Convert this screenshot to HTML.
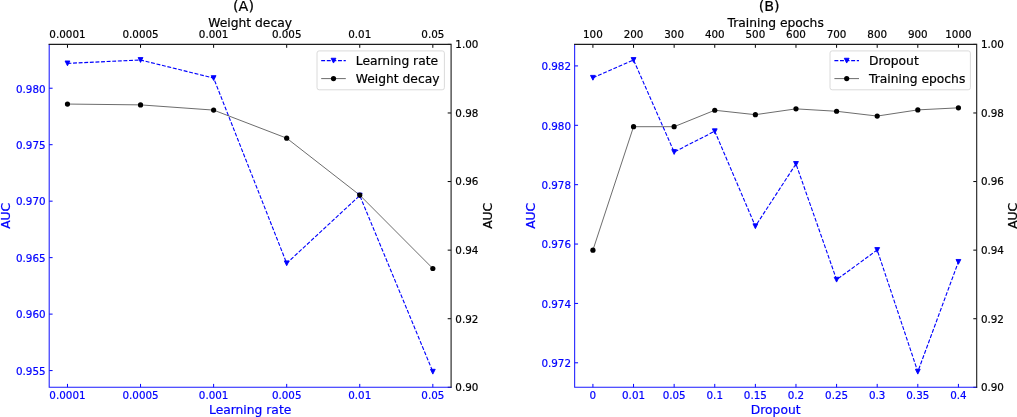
<!DOCTYPE html>
<html><head><meta charset="utf-8"><title>AUC hyperparameter sensitivity</title>
<style>html,body{margin:0;padding:0;background:#fff}svg{display:block}text{font-family:"DejaVu Sans","Liberation Sans",sans-serif;fill:#000;stroke:#000;stroke-width:0.2px}text.b{fill:#00f;stroke:#00f}</style>
</head><body>
<svg width="1017" height="417" viewBox="0 0 1017 417">
<rect width="1017" height="417" fill="#fff"/>
<g>
<polyline points="67.47,63.37 140.54,59.99 213.61,78.06 286.69,263.29 359.76,195.52 432.83,371.71" fill="none" stroke="#0000ff" stroke-width="1.12" stroke-dasharray="3.9 1.7" stroke-linejoin="round"/>
<path d="M65.07 60.97H69.87L67.47 65.77Z" fill="#0000ff" stroke="#0000ff" stroke-width="0.9" stroke-linejoin="miter"/>
<path d="M138.14 57.59H142.94L140.54 62.39Z" fill="#0000ff" stroke="#0000ff" stroke-width="0.9" stroke-linejoin="miter"/>
<path d="M211.21 75.66H216.01L213.61 80.46Z" fill="#0000ff" stroke="#0000ff" stroke-width="0.9" stroke-linejoin="miter"/>
<path d="M284.29 260.89H289.09L286.69 265.69Z" fill="#0000ff" stroke="#0000ff" stroke-width="0.9" stroke-linejoin="miter"/>
<path d="M357.36 193.12H362.16L359.76 197.92Z" fill="#0000ff" stroke="#0000ff" stroke-width="0.9" stroke-linejoin="miter"/>
<path d="M430.43 369.31H435.23L432.83 374.11Z" fill="#0000ff" stroke="#0000ff" stroke-width="0.9" stroke-linejoin="miter"/>
<polyline points="67.47,104.06 140.54,104.89 213.61,110.10 286.69,138.18 359.76,195.10 432.83,268.49" fill="none" stroke="#000" stroke-width="0.58" stroke-linejoin="round"/>
<circle cx="67.47" cy="104.06" r="2.6" fill="#000"/>
<circle cx="140.54" cy="104.89" r="2.6" fill="#000"/>
<circle cx="213.61" cy="110.10" r="2.6" fill="#000"/>
<circle cx="286.69" cy="138.18" r="2.6" fill="#000"/>
<circle cx="359.76" cy="195.10" r="2.6" fill="#000"/>
<circle cx="432.83" cy="268.49" r="2.6" fill="#000"/>
<path d="M67.47 387.3v-3.4" stroke="#0000ff" stroke-width="1.0"/>
<path d="M67.47 44.4v3.4" stroke="#000" stroke-width="1.0"/>
<path d="M140.54 387.3v-3.4" stroke="#0000ff" stroke-width="1.0"/>
<path d="M140.54 44.4v3.4" stroke="#000" stroke-width="1.0"/>
<path d="M213.61 387.3v-3.4" stroke="#0000ff" stroke-width="1.0"/>
<path d="M213.61 44.4v3.4" stroke="#000" stroke-width="1.0"/>
<path d="M286.69 387.3v-3.4" stroke="#0000ff" stroke-width="1.0"/>
<path d="M286.69 44.4v3.4" stroke="#000" stroke-width="1.0"/>
<path d="M359.76 387.3v-3.4" stroke="#0000ff" stroke-width="1.0"/>
<path d="M359.76 44.4v3.4" stroke="#000" stroke-width="1.0"/>
<path d="M432.83 387.3v-3.4" stroke="#0000ff" stroke-width="1.0"/>
<path d="M432.83 44.4v3.4" stroke="#000" stroke-width="1.0"/>
<path d="M49.2 370.58h3.4" stroke="#0000ff" stroke-width="1.0"/>
<path d="M49.2 314.11h3.4" stroke="#0000ff" stroke-width="1.0"/>
<path d="M49.2 257.64h3.4" stroke="#0000ff" stroke-width="1.0"/>
<path d="M49.2 201.17h3.4" stroke="#0000ff" stroke-width="1.0"/>
<path d="M49.2 144.69h3.4" stroke="#0000ff" stroke-width="1.0"/>
<path d="M49.2 88.22h3.4" stroke="#0000ff" stroke-width="1.0"/>
<path d="M451.1 387.30h-3.4" stroke="#000" stroke-width="1.0"/>
<path d="M451.1 318.72h-3.4" stroke="#000" stroke-width="1.0"/>
<path d="M451.1 250.14h-3.4" stroke="#000" stroke-width="1.0"/>
<path d="M451.1 181.56h-3.4" stroke="#000" stroke-width="1.0"/>
<path d="M451.1 112.98h-3.4" stroke="#000" stroke-width="1.0"/>
<path d="M451.1 44.40h-3.4" stroke="#000" stroke-width="1.0"/>
<path d="M49.2 44.4V387.3H451.1" fill="none" stroke="#1a1aff" stroke-width="1.05" stroke-linecap="square"/>
<path d="M49.2 44.4H451.1V387.3" fill="none" stroke="#1c1c1c" stroke-width="1.1" stroke-linecap="square"/>
<text x="67.47" y="38.3" font-size="10.35" text-anchor="middle">0.0001</text>
<text x="140.54" y="38.3" font-size="10.35" text-anchor="middle">0.0005</text>
<text x="213.61" y="38.3" font-size="10.35" text-anchor="middle">0.001</text>
<text x="286.69" y="38.3" font-size="10.35" text-anchor="middle">0.005</text>
<text x="359.76" y="38.3" font-size="10.35" text-anchor="middle">0.01</text>
<text x="432.83" y="38.3" font-size="10.35" text-anchor="middle">0.05</text>
<text x="67.47" y="398.5" font-size="10.35" text-anchor="middle" class="b">0.0001</text>
<text x="140.54" y="398.5" font-size="10.35" text-anchor="middle" class="b">0.0005</text>
<text x="213.61" y="398.5" font-size="10.35" text-anchor="middle" class="b">0.001</text>
<text x="286.69" y="398.5" font-size="10.35" text-anchor="middle" class="b">0.005</text>
<text x="359.76" y="398.5" font-size="10.35" text-anchor="middle" class="b">0.01</text>
<text x="432.83" y="398.5" font-size="10.35" text-anchor="middle" class="b">0.05</text>
<text x="45.60" y="374.88" font-size="10.35" text-anchor="end" class="b">0.955</text>
<text x="45.60" y="318.41" font-size="10.35" text-anchor="end" class="b">0.960</text>
<text x="45.60" y="261.94" font-size="10.35" text-anchor="end" class="b">0.965</text>
<text x="45.60" y="205.47" font-size="10.35" text-anchor="end" class="b">0.970</text>
<text x="45.60" y="148.99" font-size="10.35" text-anchor="end" class="b">0.975</text>
<text x="45.60" y="92.52" font-size="10.35" text-anchor="end" class="b">0.980</text>
<text x="455.30" y="391.20" font-size="10.35">0.90</text>
<text x="455.30" y="322.62" font-size="10.35">0.92</text>
<text x="455.30" y="254.04" font-size="10.35">0.94</text>
<text x="455.30" y="185.46" font-size="10.35">0.96</text>
<text x="455.30" y="116.88" font-size="10.35">0.98</text>
<text x="455.30" y="48.30" font-size="10.35">1.00</text>
<text x="243.50" y="10.8" font-size="14.3" text-anchor="middle">(A)</text>
<text x="250.15" y="26.5" font-size="12.3" text-anchor="middle">Weight decay</text>
<text x="250.15" y="414.1" font-size="12.3" text-anchor="middle" class="b">Learning rate</text>
<text transform="translate(9.60 215.85) rotate(-90)" font-size="12.3" text-anchor="middle" class="b">AUC</text>
<text transform="translate(491.50 215.85) rotate(-90)" font-size="12.3" text-anchor="middle">AUC</text>
<rect x="317.0" y="50.9" width="127.39999999999998" height="38.9" rx="2.2" fill="#fff" fill-opacity="0.8" stroke="#d6d6d6" stroke-width="0.9"/>
<path d="M321.20 60.65H345.80" stroke="#0000ff" stroke-width="1.12" stroke-dasharray="3.9 1.7"/>
<path d="M331.10 58.25H335.90L333.50 63.05Z" fill="#0000ff" stroke="#0000ff" stroke-width="0.9"/>
<path d="M321.20 78.6H345.80" stroke="#000" stroke-width="0.58"/>
<circle cx="333.50" cy="78.6" r="2.6" fill="#000"/>
<text x="355.80" y="65.05" font-size="12.3">Learning rate</text>
<text x="355.80" y="83.00" font-size="12.3">Weight decay</text>
</g>
<g>
<polyline points="592.92,77.80 633.54,59.99 674.15,152.02 714.76,131.24 755.37,226.24 795.98,163.90 836.59,279.68 877.20,249.99 917.81,371.71 958.42,261.87" fill="none" stroke="#0000ff" stroke-width="1.12" stroke-dasharray="3.9 1.7" stroke-linejoin="round"/>
<path d="M590.52 75.40H595.32L592.92 80.20Z" fill="#0000ff" stroke="#0000ff" stroke-width="0.9" stroke-linejoin="miter"/>
<path d="M631.14 57.59H635.94L633.54 62.39Z" fill="#0000ff" stroke="#0000ff" stroke-width="0.9" stroke-linejoin="miter"/>
<path d="M671.75 149.62H676.55L674.15 154.42Z" fill="#0000ff" stroke="#0000ff" stroke-width="0.9" stroke-linejoin="miter"/>
<path d="M712.36 128.84H717.16L714.76 133.64Z" fill="#0000ff" stroke="#0000ff" stroke-width="0.9" stroke-linejoin="miter"/>
<path d="M752.97 223.84H757.77L755.37 228.64Z" fill="#0000ff" stroke="#0000ff" stroke-width="0.9" stroke-linejoin="miter"/>
<path d="M793.58 161.50H798.38L795.98 166.30Z" fill="#0000ff" stroke="#0000ff" stroke-width="0.9" stroke-linejoin="miter"/>
<path d="M834.19 277.28H838.99L836.59 282.08Z" fill="#0000ff" stroke="#0000ff" stroke-width="0.9" stroke-linejoin="miter"/>
<path d="M874.80 247.59H879.60L877.20 252.39Z" fill="#0000ff" stroke="#0000ff" stroke-width="0.9" stroke-linejoin="miter"/>
<path d="M915.41 369.31H920.21L917.81 374.11Z" fill="#0000ff" stroke="#0000ff" stroke-width="0.9" stroke-linejoin="miter"/>
<path d="M956.02 259.47H960.82L958.42 264.27Z" fill="#0000ff" stroke="#0000ff" stroke-width="0.9" stroke-linejoin="miter"/>
<polyline points="592.92,250.14 633.54,126.70 674.15,126.70 714.76,110.24 755.37,114.69 795.98,108.87 836.59,111.27 877.20,116.07 917.81,109.89 958.42,107.84" fill="none" stroke="#000" stroke-width="0.58" stroke-linejoin="round"/>
<circle cx="592.92" cy="250.14" r="2.6" fill="#000"/>
<circle cx="633.54" cy="126.70" r="2.6" fill="#000"/>
<circle cx="674.15" cy="126.70" r="2.6" fill="#000"/>
<circle cx="714.76" cy="110.24" r="2.6" fill="#000"/>
<circle cx="755.37" cy="114.69" r="2.6" fill="#000"/>
<circle cx="795.98" cy="108.87" r="2.6" fill="#000"/>
<circle cx="836.59" cy="111.27" r="2.6" fill="#000"/>
<circle cx="877.20" cy="116.07" r="2.6" fill="#000"/>
<circle cx="917.81" cy="109.89" r="2.6" fill="#000"/>
<circle cx="958.42" cy="107.84" r="2.6" fill="#000"/>
<path d="M592.92 387.3v-3.4" stroke="#0000ff" stroke-width="1.0"/>
<path d="M592.92 44.4v3.4" stroke="#000" stroke-width="1.0"/>
<path d="M633.54 387.3v-3.4" stroke="#0000ff" stroke-width="1.0"/>
<path d="M633.54 44.4v3.4" stroke="#000" stroke-width="1.0"/>
<path d="M674.15 387.3v-3.4" stroke="#0000ff" stroke-width="1.0"/>
<path d="M674.15 44.4v3.4" stroke="#000" stroke-width="1.0"/>
<path d="M714.76 387.3v-3.4" stroke="#0000ff" stroke-width="1.0"/>
<path d="M714.76 44.4v3.4" stroke="#000" stroke-width="1.0"/>
<path d="M755.37 387.3v-3.4" stroke="#0000ff" stroke-width="1.0"/>
<path d="M755.37 44.4v3.4" stroke="#000" stroke-width="1.0"/>
<path d="M795.98 387.3v-3.4" stroke="#0000ff" stroke-width="1.0"/>
<path d="M795.98 44.4v3.4" stroke="#000" stroke-width="1.0"/>
<path d="M836.59 387.3v-3.4" stroke="#0000ff" stroke-width="1.0"/>
<path d="M836.59 44.4v3.4" stroke="#000" stroke-width="1.0"/>
<path d="M877.20 387.3v-3.4" stroke="#0000ff" stroke-width="1.0"/>
<path d="M877.20 44.4v3.4" stroke="#000" stroke-width="1.0"/>
<path d="M917.81 387.3v-3.4" stroke="#0000ff" stroke-width="1.0"/>
<path d="M917.81 44.4v3.4" stroke="#000" stroke-width="1.0"/>
<path d="M958.42 387.3v-3.4" stroke="#0000ff" stroke-width="1.0"/>
<path d="M958.42 44.4v3.4" stroke="#000" stroke-width="1.0"/>
<path d="M574.65 362.81h3.4" stroke="#0000ff" stroke-width="1.0"/>
<path d="M574.65 303.43h3.4" stroke="#0000ff" stroke-width="1.0"/>
<path d="M574.65 244.05h3.4" stroke="#0000ff" stroke-width="1.0"/>
<path d="M574.65 184.68h3.4" stroke="#0000ff" stroke-width="1.0"/>
<path d="M574.65 125.30h3.4" stroke="#0000ff" stroke-width="1.0"/>
<path d="M574.65 65.92h3.4" stroke="#0000ff" stroke-width="1.0"/>
<path d="M976.7 387.30h-3.4" stroke="#000" stroke-width="1.0"/>
<path d="M976.7 318.72h-3.4" stroke="#000" stroke-width="1.0"/>
<path d="M976.7 250.14h-3.4" stroke="#000" stroke-width="1.0"/>
<path d="M976.7 181.56h-3.4" stroke="#000" stroke-width="1.0"/>
<path d="M976.7 112.98h-3.4" stroke="#000" stroke-width="1.0"/>
<path d="M976.7 44.40h-3.4" stroke="#000" stroke-width="1.0"/>
<path d="M574.65 44.4V387.3H976.7" fill="none" stroke="#1a1aff" stroke-width="1.05" stroke-linecap="square"/>
<path d="M574.65 44.4H976.7V387.3" fill="none" stroke="#1c1c1c" stroke-width="1.1" stroke-linecap="square"/>
<text x="592.92" y="38.3" font-size="10.35" text-anchor="middle">100</text>
<text x="633.54" y="38.3" font-size="10.35" text-anchor="middle">200</text>
<text x="674.15" y="38.3" font-size="10.35" text-anchor="middle">300</text>
<text x="714.76" y="38.3" font-size="10.35" text-anchor="middle">400</text>
<text x="755.37" y="38.3" font-size="10.35" text-anchor="middle">500</text>
<text x="795.98" y="38.3" font-size="10.35" text-anchor="middle">600</text>
<text x="836.59" y="38.3" font-size="10.35" text-anchor="middle">700</text>
<text x="877.20" y="38.3" font-size="10.35" text-anchor="middle">800</text>
<text x="917.81" y="38.3" font-size="10.35" text-anchor="middle">900</text>
<text x="958.42" y="38.3" font-size="10.35" text-anchor="middle">1000</text>
<text x="592.92" y="398.5" font-size="10.35" text-anchor="middle" class="b">0</text>
<text x="633.54" y="398.5" font-size="10.35" text-anchor="middle" class="b">0.01</text>
<text x="674.15" y="398.5" font-size="10.35" text-anchor="middle" class="b">0.05</text>
<text x="714.76" y="398.5" font-size="10.35" text-anchor="middle" class="b">0.1</text>
<text x="755.37" y="398.5" font-size="10.35" text-anchor="middle" class="b">0.15</text>
<text x="795.98" y="398.5" font-size="10.35" text-anchor="middle" class="b">0.2</text>
<text x="836.59" y="398.5" font-size="10.35" text-anchor="middle" class="b">0.25</text>
<text x="877.20" y="398.5" font-size="10.35" text-anchor="middle" class="b">0.3</text>
<text x="917.81" y="398.5" font-size="10.35" text-anchor="middle" class="b">0.35</text>
<text x="958.42" y="398.5" font-size="10.35" text-anchor="middle" class="b">0.4</text>
<text x="571.05" y="367.11" font-size="10.35" text-anchor="end" class="b">0.972</text>
<text x="571.05" y="307.73" font-size="10.35" text-anchor="end" class="b">0.974</text>
<text x="571.05" y="248.35" font-size="10.35" text-anchor="end" class="b">0.976</text>
<text x="571.05" y="188.98" font-size="10.35" text-anchor="end" class="b">0.978</text>
<text x="571.05" y="129.60" font-size="10.35" text-anchor="end" class="b">0.980</text>
<text x="571.05" y="70.22" font-size="10.35" text-anchor="end" class="b">0.982</text>
<text x="980.90" y="391.20" font-size="10.35">0.90</text>
<text x="980.90" y="322.62" font-size="10.35">0.92</text>
<text x="980.90" y="254.04" font-size="10.35">0.94</text>
<text x="980.90" y="185.46" font-size="10.35">0.96</text>
<text x="980.90" y="116.88" font-size="10.35">0.98</text>
<text x="980.90" y="48.30" font-size="10.35">1.00</text>
<text x="769.20" y="10.8" font-size="14.3" text-anchor="middle">(B)</text>
<text x="775.67" y="26.5" font-size="12.3" text-anchor="middle">Training epochs</text>
<text x="775.67" y="414.1" font-size="12.3" text-anchor="middle" class="b">Dropout</text>
<text transform="translate(535.05 215.85) rotate(-90)" font-size="12.3" text-anchor="middle" class="b">AUC</text>
<text transform="translate(1017.10 215.85) rotate(-90)" font-size="12.3" text-anchor="middle">AUC</text>
<rect x="830.0" y="50.9" width="140.39999999999998" height="38.9" rx="2.2" fill="#fff" fill-opacity="0.8" stroke="#d6d6d6" stroke-width="0.9"/>
<path d="M834.40 60.65H859.00" stroke="#0000ff" stroke-width="1.12" stroke-dasharray="3.9 1.7"/>
<path d="M844.30 58.25H849.10L846.70 63.05Z" fill="#0000ff" stroke="#0000ff" stroke-width="0.9"/>
<path d="M834.40 78.6H859.00" stroke="#000" stroke-width="0.58"/>
<circle cx="846.70" cy="78.6" r="2.6" fill="#000"/>
<text x="869.00" y="65.05" font-size="12.3">Dropout</text>
<text x="869.00" y="83.00" font-size="12.3">Training epochs</text>
</g>
</svg>
</body></html>
